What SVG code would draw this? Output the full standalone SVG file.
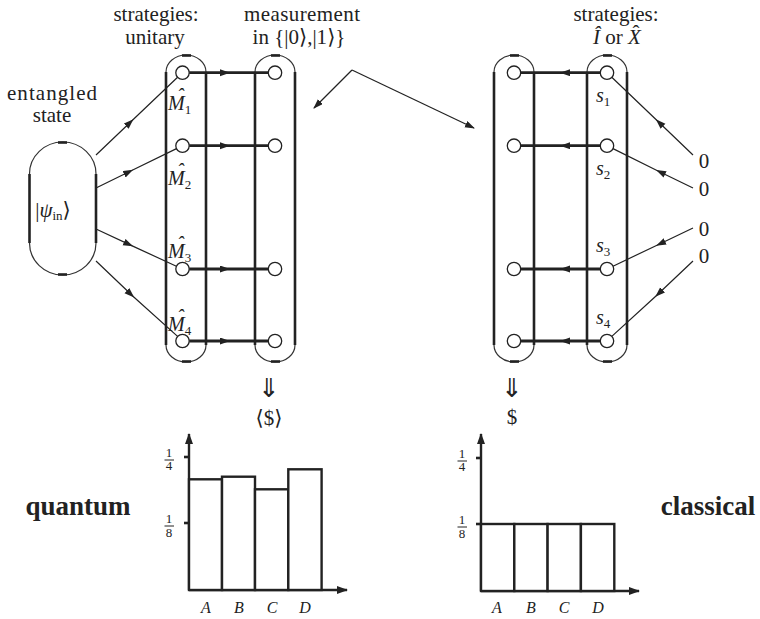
<svg xmlns="http://www.w3.org/2000/svg" width="760" height="619" viewBox="0 0 760 619">
<defs>
<style>
.t{font-family:'Liberation Serif',serif;font-size:21px;fill:#222;text-anchor:middle}
.sym{font-family:'DejaVu Serif','DejaVu Sans',serif;font-style:normal}
.mi{font-family:'Liberation Serif',serif;font-style:italic;font-size:20px;fill:#222}
.sub{font-style:normal;font-size:13px}
.b{font-family:'Liberation Serif',serif;font-weight:bold;font-size:27px;fill:#222;text-anchor:middle}
.fr{font-family:'Liberation Serif',serif;font-size:13px;fill:#222;text-anchor:middle}
.ax{font-family:'Liberation Serif',serif;font-style:italic;font-size:16px;fill:#222;text-anchor:middle}
.side{stroke:#222;stroke-width:2.6;fill:none}
.arc{stroke:#333;stroke-width:1.2;fill:none}
.tick{stroke:#222;stroke-width:2.6}
.node{fill:#fff;stroke:#222;stroke-width:1.3}
.thin{stroke:#222;stroke-width:1.2;fill:none;marker-mid:url(#ah)}
.thick{stroke:#222;stroke-width:2.8;fill:none;marker-mid:url(#ah)}
.bar{fill:#fff;stroke:#222;stroke-width:2.4}
.axis{stroke:#222;stroke-width:2.4;fill:none}
.dd{font-family:'DejaVu Sans',sans-serif;font-size:26px;fill:#222;text-anchor:middle}
</style>
<marker id="ah" markerUnits="userSpaceOnUse" markerWidth="10" markerHeight="8" refX="9" refY="3.5" orient="auto">
<path d="M0,0 L10,3.5 L0,7 z" fill="#222"/>
</marker>
<marker id="at" markerUnits="userSpaceOnUse" markerWidth="12" markerHeight="10" refX="10" refY="4" orient="auto">
<path d="M0,0 L11,4 L0,8 z" fill="#222"/>
</marker>
</defs>

<!-- headings -->
<g id="labels">
<text class="t" x="156" y="21">strategies:</text>
<text class="t" x="155" y="44">unitary</text>
<text class="t" x="302" y="21" textLength="116">measurement</text>
<text class="t" x="299" y="44">in {|0<tspan class="sym">⟩</tspan>,|1<tspan class="sym">⟩</tspan>}</text>
<text class="t" x="616" y="21">strategies:</text>
<text class="t" x="617" y="44"><tspan font-style="italic">Î</tspan> or <tspan font-style="italic">X</tspan></text>
<text class="t" x="636" y="40">ˆ</text>
<text class="t" x="52" y="100" textLength="90">entangled</text>
<text class="t" x="52" y="122">state</text>
</g>

<!-- entangled state -->
<g id="entangled">
<path class="arc" d="M29.5,174 A33.25,32 0 0 1 96,174"/>
<path class="arc" d="M29.5,243 A33.25,32 0 0 0 96,243"/>
<line class="side" x1="29.5" y1="174" x2="29.5" y2="243" stroke-width="3"/>
<line class="side" x1="96" y1="174" x2="96" y2="243"/>
<line class="tick" x1="58" y1="142.5" x2="67" y2="142.5" stroke-width="2"/>
<line class="tick" x1="58" y1="274.5" x2="67" y2="274.5" stroke-width="2"/>
<text class="t" x="53" y="217" font-size="20"><tspan>|</tspan><tspan font-style="italic">ψ</tspan><tspan font-size="13" dy="3">in</tspan><tspan class="sym" dy="-3">⟩</tspan></text>
</g>

<!-- capsules -->
<g id="cap1">
<path class="arc" d="M166,72 A20,17 0 0 1 206,72"/>
<path class="arc" d="M166,345 A20,17 0 0 0 206,345"/>
<line class="side" x1="166" y1="72" x2="166" y2="345"/>
<line class="side" x1="206" y1="72" x2="206" y2="345"/>
<line class="tick" x1="182" y1="55.5" x2="191" y2="55.5"/>
<line class="tick" x1="182" y1="361.5" x2="191" y2="361.5"/>
</g>
<g id="cap2">
<path class="arc" d="M255,72 A20,17 0 0 1 295,72"/>
<path class="arc" d="M255,345 A20,17 0 0 0 295,345"/>
<line class="side" x1="255" y1="72" x2="255" y2="345"/>
<line class="side" x1="295" y1="72" x2="295" y2="345"/>
<line class="tick" x1="271" y1="55.5" x2="280" y2="55.5"/>
<line class="tick" x1="271" y1="361.5" x2="280" y2="361.5"/>
</g>
<g id="cap3">
<path class="arc" d="M494,72 A20,17 0 0 1 534,72"/>
<path class="arc" d="M494,345 A20,17 0 0 0 534,345"/>
<line class="side" x1="494" y1="72" x2="494" y2="345"/>
<line class="side" x1="534" y1="72" x2="534" y2="345"/>
<line class="tick" x1="510" y1="55.5" x2="519" y2="55.5"/>
<line class="tick" x1="510" y1="361.5" x2="519" y2="361.5"/>
</g>
<g id="cap4">
<path class="arc" d="M587,72 A20,17 0 0 1 627,72"/>
<path class="arc" d="M587,345 A20,17 0 0 0 627,345"/>
<line class="side" x1="587" y1="72" x2="587" y2="345" stroke-width="3"/>
<line class="side" x1="627" y1="72" x2="627" y2="345"/>
<line class="tick" x1="603" y1="55.5" x2="612" y2="55.5"/>
<line class="tick" x1="603" y1="361.5" x2="612" y2="361.5"/>
</g>

<!-- connectors -->
<g id="connectors">
<path class="thin" d="M96,155 L132.7,120 L177.6,77.3"/>
<path class="thin" d="M96,188 L132.2,170.3 L176.5,148.6"/>
<path class="thin" d="M96,229 L132.2,245.9 L176.4,266.2"/>
<path class="thin" d="M96,261 L133.5,296.7 L177.6,336.4"/>
<path class="thick" d="M189.2,72.7 L229,72.7 L268.3,72.7" stroke-width="2.4"/>
<path class="thick" d="M189.2,145.7 L229,145.7 L268.3,145.7" stroke-width="2.4"/>
<path class="thick" d="M189.2,269 L229,269 L268.3,269"/>
<path class="thick" d="M189.2,341 L229,341 L268.3,341"/>
<path class="thick" d="M600.3,72.7 L561,72.7 L520.7,72.7" stroke-width="2.4"/>
<path class="thick" d="M600.3,145.7 L561,145.7 L520.7,145.7" stroke-width="2.4"/>
<path class="thick" d="M600.3,269 L561,269 L520.7,269"/>
<path class="thick" d="M600.3,341 L561,341 L520.7,341"/>
<path class="thin" d="M693,155 L656.5,120 L611.8,77.3"/>
<path class="thin" d="M693,188 L657,170.5 L613,148.6"/>
<path class="thin" d="M693,228 L657,245.2 L613,266.2"/>
<path class="thin" d="M693,261 L656,296 L611.8,336.4"/>
<path d="M352,70 L314,108" stroke="#222" stroke-width="1.2" fill="none" marker-end="url(#ah)"/>
<path d="M352,70 L474,128" stroke="#222" stroke-width="1.2" fill="none" marker-end="url(#ah)"/>
</g>

<!-- nodes -->
<g id="nodes">
<circle class="node" cx="182.5" cy="72.7" r="6.7"/>
<circle class="node" cx="182.5" cy="145.7" r="6.7"/>
<circle class="node" cx="182.5" cy="269" r="6.7"/>
<circle class="node" cx="182.5" cy="341" r="6.7"/>
<circle class="node" cx="275" cy="72.7" r="6.7"/>
<circle class="node" cx="275" cy="145.7" r="6.7"/>
<circle class="node" cx="275" cy="269" r="6.7"/>
<circle class="node" cx="275" cy="341" r="6.7"/>
<circle class="node" cx="514" cy="72.7" r="6.7"/>
<circle class="node" cx="514" cy="145.7" r="6.7"/>
<circle class="node" cx="514" cy="269" r="6.7"/>
<circle class="node" cx="514" cy="341" r="6.7"/>
<circle class="node" cx="607" cy="72.7" r="6.7"/>
<circle class="node" cx="607" cy="145.7" r="6.7"/>
<circle class="node" cx="607" cy="269" r="6.7"/>
<circle class="node" cx="607" cy="341" r="6.7"/>
</g>

<!-- node labels -->
<g id="mlabels">
<text class="mi" x="168" y="110">M<tspan class="sub" dy="4">1</tspan></text>
<text class="mi" x="177" y="103">ˆ</text>
<text class="mi" x="168" y="185">M<tspan class="sub" dy="4">2</tspan></text>
<text class="mi" x="177" y="178">ˆ</text>
<text class="mi" x="168" y="258">M<tspan class="sub" dy="4">3</tspan></text>
<text class="mi" x="177" y="251">ˆ</text>
<text class="mi" x="168" y="331">M<tspan class="sub" dy="4">4</tspan></text>
<text class="mi" x="177" y="324">ˆ</text>
<text class="mi" x="596" y="102">s<tspan class="sub" dy="4">1</tspan></text>
<text class="mi" x="596" y="175">s<tspan class="sub" dy="4">2</tspan></text>
<text class="mi" x="596" y="252">s<tspan class="sub" dy="4">3</tspan></text>
<text class="mi" x="596" y="324">s<tspan class="sub" dy="4">4</tspan></text>
<text class="t" x="704" y="168" font-size="16">0</text>
<text class="t" x="704" y="196" font-size="16">0</text>
<text class="t" x="704" y="236" font-size="16">0</text>
<text class="t" x="704" y="263" font-size="16">0</text>
</g>

<!-- results -->
<g id="quantum-chart">
<text class="dd" x="269" y="397">⇓</text>
<text class="t" x="269" y="425" font-size="16"><tspan class="sym">⟨</tspan>$<tspan class="sym">⟩</tspan></text>
<line class="axis" x1="189" y1="590" x2="189" y2="434" marker-end="url(#at)"/>
<line class="axis" x1="189" y1="590" x2="347" y2="590" marker-end="url(#at)"/>
<line class="tick" x1="184" y1="457" x2="189" y2="457"/>
<line class="tick" x1="184" y1="523" x2="189" y2="523"/>
<text class="fr" x="169" y="457">1</text><line x1="164.5" y1="460" x2="174" y2="460" stroke="#222" stroke-width="1"/><text class="fr" x="169" y="470">4</text>
<text class="fr" x="169" y="523">1</text><line x1="164.5" y1="526" x2="174" y2="526" stroke="#222" stroke-width="1"/><text class="fr" x="169" y="537">8</text>
<rect class="bar" x="189" y="479.3" width="33" height="110.7"/>
<rect class="bar" x="222" y="476.7" width="33" height="113.3"/>
<rect class="bar" x="255" y="489.3" width="33.3" height="100.7"/>
<rect class="bar" x="288.3" y="469.3" width="33.3" height="120.7"/>
<text class="ax" x="206" y="613">A</text>
<text class="ax" x="239" y="613">B</text>
<text class="ax" x="272" y="613">C</text>
<text class="ax" x="305" y="613">D</text>
<text class="b" x="78" y="515">quantum</text>
</g>

<g id="classical-chart">
<text class="dd" x="512" y="397">⇓</text>
<text class="t" x="512" y="424" font-size="16">$</text>
<line class="axis" x1="481" y1="591" x2="481" y2="434" marker-end="url(#at)"/>
<line class="axis" x1="481" y1="591" x2="639" y2="591" marker-end="url(#at)"/>
<line class="tick" x1="476" y1="458" x2="481" y2="458"/>
<line class="tick" x1="476" y1="524" x2="481" y2="524"/>
<text class="fr" x="462" y="458">1</text><line x1="457.5" y1="461" x2="467" y2="461" stroke="#222" stroke-width="1"/><text class="fr" x="462" y="471">4</text>
<text class="fr" x="462" y="524">1</text><line x1="457.5" y1="527" x2="467" y2="527" stroke="#222" stroke-width="1"/><text class="fr" x="462" y="538">8</text>
<rect class="bar" x="481" y="524" width="33.3" height="67"/>
<rect class="bar" x="514.3" y="524" width="33.3" height="67"/>
<rect class="bar" x="547.6" y="524" width="33.3" height="67"/>
<rect class="bar" x="580.9" y="524" width="33.4" height="67"/>
<text class="ax" x="497" y="613">A</text>
<text class="ax" x="531" y="613">B</text>
<text class="ax" x="564" y="613">C</text>
<text class="ax" x="598" y="613">D</text>
<text class="b" x="708" y="515">classical</text>
</g>
</svg>
